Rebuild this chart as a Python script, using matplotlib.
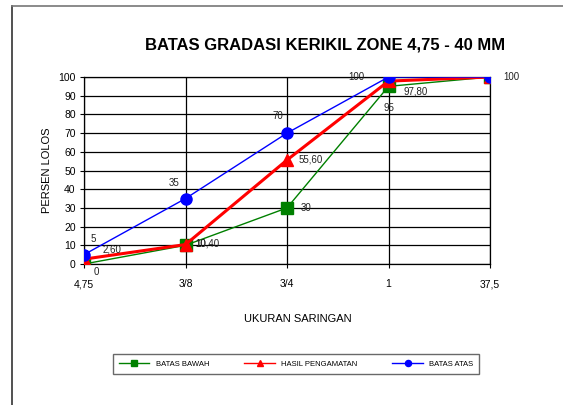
import matplotlib
matplotlib.use('Agg')
import matplotlib.pyplot as plt
from matplotlib.lines import Line2D

plt.rcParams['font.family'] = ['Liberation Sans', 'DejaVu Sans']

# data
saringan = ['4,75', '3/8', '3/4', '1', '37,5']
batas_bawah = [0, 10, 30, 95, 100]
hasil_pengamatan = [2.60, 10.40, 55.60, 97.80, 100]
batas_atas = [5, 35, 70, 100, 100]

lbl_bawah = ['0', '10', '30', '95', '']
lbl_hasil = ['2,60', '10,40', '55,60', '97,80', '']
lbl_atas = ['5', '35', '70', '100', '100']

fig = plt.figure(figsize=(5.63, 4.05), dpi=100)
ax = fig.add_axes([84/563, 1-264/405, (490-84)/563, (264-77)/405])

x = list(range(len(saringan)))
ax.plot(x, batas_bawah, color='green', lw=1, marker='s', ms=8, label='BATAS BAWAH', zorder=3)
ax.plot(x, hasil_pengamatan, color='red', lw=2.2, marker='^', ms=8, label='HASIL PENGAMATAN', zorder=4)
ax.plot(x, batas_atas, color='blue', lw=1, marker='o', ms=8, label='BATAS ATAS', zorder=5)

# data labels: (dx, dy) in pixels, horizontal alignment
off_bawah = [(12, -8, 'center'), (10, 1, 'left'), (19, 0, 'center'), (0, -22, 'center'), (0, 0, 'center')]
off_hasil = [(28, 10, 'center'), (10, 1, 'left'), (24, 1, 'center'), (27, -10, 'center'), (0, 0, 'center')]
off_atas = [(9, 16, 'center'), (-11, 16, 'center'), (-9, 17, 'center'), (-32, 0, 'center'), (21, 0, 'center')]
for vals, lbls, offs in [(batas_bawah, lbl_bawah, off_bawah),
                         (hasil_pengamatan, lbl_hasil, off_hasil),
                         (batas_atas, lbl_atas, off_atas)]:
    for i in x:
        if lbls[i]:
            dx, dy, ha = offs[i]
            ax.annotate(lbls[i], (i, vals[i]), xytext=(dx, dy), textcoords='offset pixels',
                        ha=ha, va='center', fontsize=7, color='#222222', zorder=6)

ax.set_xlim(0, len(saringan)-1)
ax.set_ylim(0, 100)
ax.set_xticks(x)
ax.set_xticklabels(saringan, fontsize=7.5)
ax.set_yticks(range(0, 101, 10))
ax.tick_params(axis='y', labelsize=7.5, length=3, pad=3)
ax.tick_params(axis='x', length=3, pad=8)
ax.grid(True, color='black', lw=0.9)
for s in ax.spines.values():
    s.set_color('black')
    s.set_linewidth(0.9)

ax.set_ylabel('PERSEN LOLOS', fontsize=8)
ax.yaxis.set_label_coords(-32/406, 0.5)
ax.set_xlabel('UKURAN SARINGAN', fontsize=8)
ax.xaxis.set_label_coords((298-84)/406, -(314-264)/187)
fig.text(325/563, 1-45/405, 'BATAS GRADASI KERIKIL ZONE 4,75 - 40 MM', ha='center', va='center',
         fontsize=12, fontweight='bold')

leg = fig.legend(loc='center', bbox_to_anchor=(296/563, 1-364/405), ncol=3, fontsize=5.5,
                 frameon=True, fancybox=False, edgecolor='#444444', markerscale=0.55,
                 handlelength=4, columnspacing=4.6, borderpad=0.8)
leg.get_frame().set_linewidth(1)
for h in leg.get_lines():
    h.set_linewidth(1)

# outer chart border (left and top visible)
fig.add_artist(Line2D([12/563, 12/563], [0, 1-6/405], color='#333333', lw=1.2))
fig.add_artist(Line2D([12/563, 1], [1-6/405, 1-6/405], color='#777777', lw=1.2))

fig.savefig('out.png', dpi=100)
